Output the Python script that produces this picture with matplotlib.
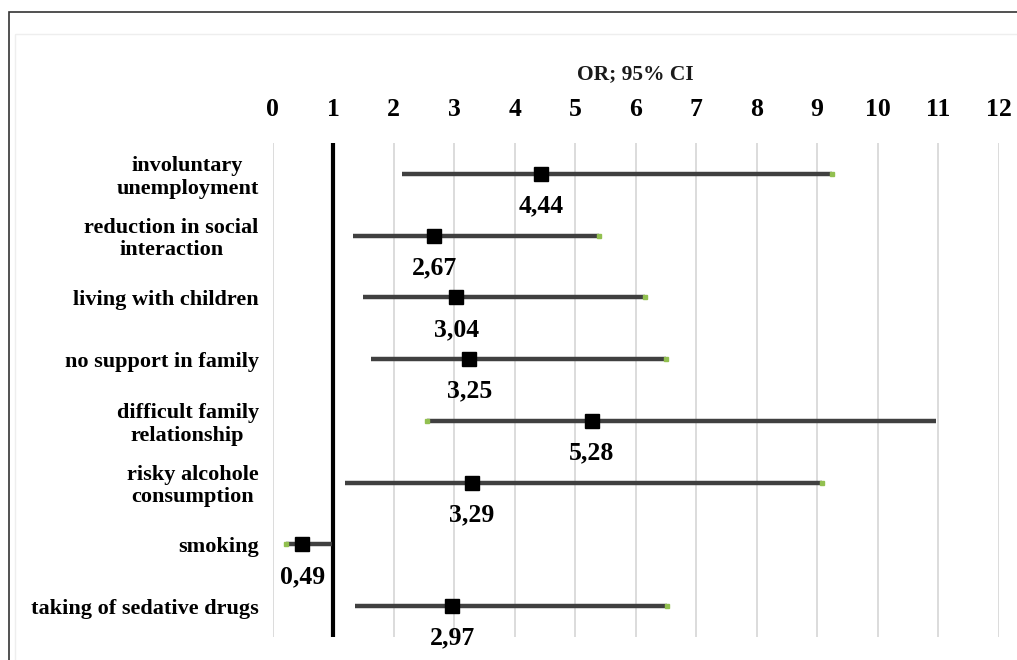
"""
forest plot - odds ratios with 95% CI
"""
import matplotlib.pyplot as plt
from matplotlib.patches import Rectangle

factors = ["involuntary\nunemployment", "reduction in social\ninteraction",
           "living with children", "no support in family",
           "difficult family\nrelationship", "risky alcohole\nconsumption",
           "smoking", "taking of sedative drugs"]
odds = [4.44, 2.67, 3.04, 3.25, 5.28, 3.29, 0.49, 2.97]
ci_low = [2.14, 1.33, 1.50, 1.63, 2.55, 1.20, 0.23, 1.36]
ci_high = [9.25, 5.40, 6.16, 6.50, 10.97, 9.08, 0.98, 6.52]
# end of the interval where the excel series marker sits
dot_end = ["hi", "hi", "hi", "hi", "lo", "hi", "lo", "hi"]
ticks = list(range(0, 13))

plt.rcParams['font.family'] = ['Liberation Serif', 'DejaVu Serif']
plt.rcParams['font.weight'] = 'bold'

fig = plt.figure(figsize=(10.17, 6.6), dpi=100)
ax = fig.add_axes([0.268, 0.0348, 0.7139, 0.7485])

# frame around the chart
fig.patches.append(Rectangle((9 / 1017, -0.2), 1.2, 1.2 - 12 / 660,
                             transform=fig.transFigure, fill=False,
                             edgecolor='#333333', linewidth=1.2))
fig.patches.append(Rectangle((15 / 1017, -0.2), 1.2, 1.2 - 34 / 660,
                             transform=fig.transFigure, fill=False,
                             edgecolor='#eeeeee', linewidth=1.0))

rows = list(range(len(factors)))
for x in ticks:
    if x == 1:
        ax.axvline(x, color='black', linewidth=3, zorder=2)
    else:
        ax.axvline(x, color='#d9d9d9', linewidth=1.3, zorder=1)

for i in rows:
    ax.plot([ci_low[i], ci_high[i]], [i, i], color='#404040', linewidth=3.2,
            solid_capstyle='butt', zorder=3)
    xe = ci_high[i] if dot_end[i] == "hi" else ci_low[i]
    ax.plot(xe, i, 's', color='#92c050', markersize=2.5, zorder=3)
    ax.plot(odds[i], i, 's', color='black', markersize=10, zorder=4)
    ax.annotate(f"{odds[i]:.2f}".replace(".", ","), (odds[i], i),
                xytext=(0, -23), textcoords='offset points',
                ha='center', va='center', fontsize=18.5, fontweight='bold')

ax.set_xlim(0, 12)
ax.set_ylim(len(factors) - 0.5, -0.5)
ax.set_xticks(ticks)
ax.xaxis.tick_top()
ax.tick_params(axis='x', length=0, pad=16, labelsize=18.5)
ax.set_yticks(rows)
ax.set_yticklabels(factors, fontsize=16, ha='right', multialignment='center',
                   linespacing=1.15)
ax.tick_params(axis='y', length=0, pad=10)
for spine in ax.spines.values():
    spine.set_visible(False)

fig.text(635 / 1017, 1 - 74 / 660, "OR; 95% CI", ha='center', va='center',
         fontsize=15.5, fontweight='bold', color='#1a1a1a')

fig.savefig("out.png", dpi=100)
